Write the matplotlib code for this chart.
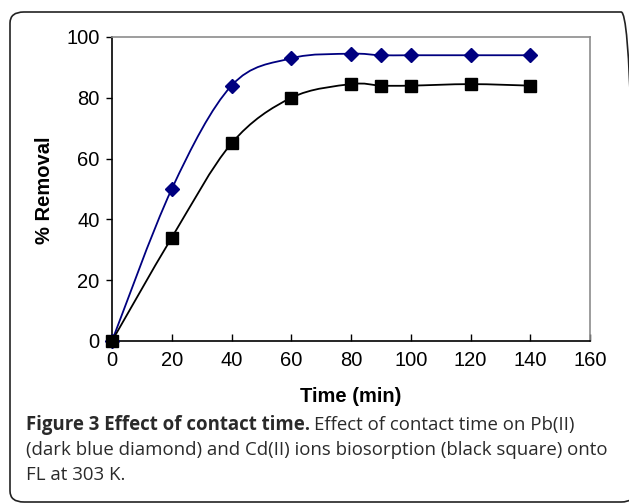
import matplotlib
matplotlib.use("Agg")
import matplotlib.pyplot as plt
from matplotlib.path import Path
from matplotlib.patches import PathPatch, FancyBboxPatch
import numpy as np

time_min = [0, 20, 40, 60, 80, 90, 100, 120, 140]
pb_removal = [0, 50, 84, 93, 94.5, 94, 94, 94, 94]
cd_removal = [0, 34, 65, 80, 84.5, 84, 84, 84.5, 84]

x_ticks = [0, 20, 40, 60, 80, 100, 120, 140, 160]
y_ticks = [0, 20, 40, 60, 80, 100]

W, H = 629, 504


def smooth_path(xs, ys):
    # Excel style smoothed line: Catmull-Rom turned into cubic bezier segments
    pts = np.column_stack([xs, ys]).astype(float)
    n = len(pts)
    verts = [pts[0]]
    codes = [Path.MOVETO]
    for i in range(n - 1):
        p0 = pts[max(i - 1, 0)]
        p1 = pts[i]
        p2 = pts[i + 1]
        p3 = pts[min(i + 2, n - 1)]
        verts += [p1 + (p2 - p0) / 6, p2 - (p3 - p1) / 6, p2]
        codes += [Path.CURVE4] * 3
    return Path(verts, codes)


fig = plt.figure(figsize=(W / 100, H / 100), dpi=100)

# rounded frame around figure + caption (right edge runs off the image)
frame = FancyBboxPatch(
    (10 / W, 2 / H), 625 / W, 490 / H,
    boxstyle="round,pad=0,rounding_size=0.022",
    transform=fig.transFigure, facecolor="none",
    edgecolor="#222222", linewidth=1.2,
)
fig.patches.append(frame)

ax = fig.add_axes([112 / W, (H - 341) / H, 478 / W, 304 / H])

for ys, color, marker, ms in [
    (pb_removal, "#000080", "D", 7.5),
    (cd_removal, "black", "s", 8.5),
]:
    ax.add_patch(PathPatch(smooth_path(time_min, ys), facecolor="none",
                           edgecolor=color, linewidth=1.3))
    ax.plot(time_min, ys, linestyle="none", marker=marker, markersize=ms,
            color=color, clip_on=False, zorder=3)

ax.set_xlim(0, 160)
ax.set_ylim(0, 100)
ax.set_xticks(x_ticks)
ax.set_yticks(y_ticks)

font = "Liberation Sans"
ax.tick_params(axis="x", direction="in", length=5, width=1, pad=7,
               labelsize=14.5)
ax.tick_params(axis="y", direction="out", length=4, width=1, pad=5,
               labelsize=14.5)
for lab in ax.get_xticklabels() + ax.get_yticklabels():
    lab.set_fontfamily(font)

ax.spines["left"].set_color("black")
ax.spines["bottom"].set_color("black")
ax.spines["top"].set_color("#8c8c8c")
ax.spines["right"].set_color("#8c8c8c")
for s in ax.spines.values():
    s.set_linewidth(1.2)

fig.text(45 / W, 1 - 190 / H, "% Removal", rotation=90, ha="center",
         va="center", fontsize=14.5, fontweight="bold", family=font)
fig.text(351 / W, 1 - 397 / H, "Time (min)", ha="center", va="center",
         fontsize=14.5, fontweight="bold", family=font)

cap = dict(fontsize=13.4, family="Open Sans", color="#2a2a2a", ha="left",
           va="center")
t1 = fig.text(26 / W, 1 - 425 / H, "Figure 3 Effect of contact time.",
              fontweight="bold", **cap)
fig.canvas.draw()
bb = t1.get_window_extent()
fig.text((bb.x1 + 4) / W, 1 - 425 / H,
         "Effect of contact time on Pb(II)", **cap)
fig.text(26 / W, 1 - 450 / H,
         "(dark blue diamond) and Cd(II) ions biosorption (black square) onto",
         **cap)
fig.text(26 / W, 1 - 475 / H, "FL at 303 K.", **cap)

plt.savefig("out.png", dpi=100)
